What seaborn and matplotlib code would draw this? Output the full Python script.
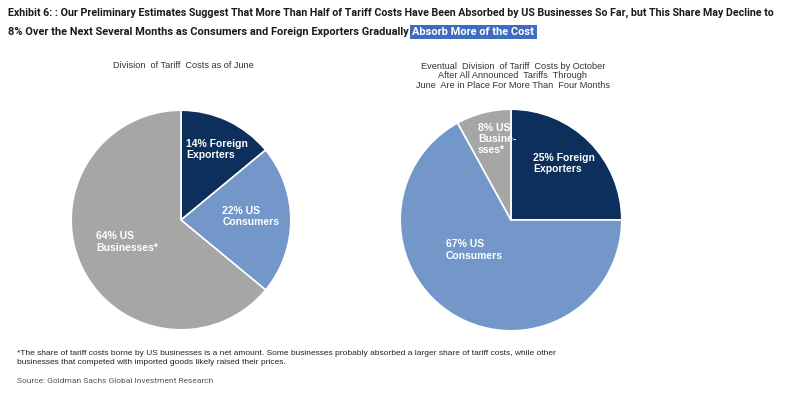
import matplotlib
matplotlib.use("Agg")
import matplotlib.pyplot as plt
import seaborn as sns
from matplotlib import font_manager

sns.set_theme(style="white")

names = {f.name for f in font_manager.fontManager.ttflist}
NARROW = "Liberation Sans Narrow" if "Liberation Sans Narrow" in names else "Roboto"
ARIAL = "Liberation Sans"

# ---- data ----
segments = ["Foreign Exporters", "US Consumers", "US Businesses"]
june_shares = [14, 22, 64]
october_shares = [25, 67, 8]
june_labels = ["14% Foreign\nExporters", "22% US\nConsumers", "64% US\nBusinesses*"]
october_labels = ["25% Foreign\nExporters", "67% US\nConsumers", "8% US\nBusine-\nsses*"]
colors = ["#0d2f5b", "#7297c8", "#a6a6a6"]

title_line1 = ("Exhibit 6: : Our Preliminary Estimates Suggest That More Than Half of Tariff Costs "
               "Have Been Absorbed by US Businesses So Far, but This Share May Decline to")
title_line2a = "8% Over the Next Several Months as Consumers and Foreign Exporters Gradually "
title_line2b = "Absorb More of the Cost"
sub_left = "Division  of Tariff  Costs as of June"
sub_right = "Eventual  Division  of Tariff  Costs by October\nAfter All Announced  Tariffs  Through\nJune  Are in Place For More Than  Four Months"
footnote = ("*The share of tariff costs borne by US businesses is a net amount. Some businesses probably absorbed a larger share of tariff costs, while other\n"
            "businesses that competed with imported goods likely raised their prices.")
source = "Source: Goldman Sachs Global Investment Research"

W, H = 798, 393
fig = plt.figure(figsize=(W / 100, H / 100), dpi=100)
fig.patch.set_facecolor("white")


def pie_axes(cx, cy, r):
    return fig.add_axes([(cx - r) / W, 1 - (cy + r) / H, 2 * r / W, 2 * r / H])


def draw_pie(ax, shares, labels, label_pos):
    ax.pie(shares, colors=colors, startangle=90, counterclock=False, radius=1,
           wedgeprops=dict(edgecolor="white", linewidth=1.2))
    ax.set_xlim(-1.02, 1.02)
    ax.set_ylim(-1.02, 1.02)
    ax.set_aspect("equal")
    ax.axis("off")
    for lab, (x, y) in zip(labels, label_pos):
        ax.text(x, y, lab, ha="left", va="center", color="white", fontsize=7.5,
                fontweight="bold", family=ARIAL, linespacing=1.15)


axL = pie_axes(181, 220, 112)
draw_pie(axL, june_shares, june_labels, [(0.045, 0.64), (0.375, 0.03), (-0.77, -0.2)])
axR = pie_axes(511, 220, 113)
draw_pie(axR, october_shares, october_labels, [(0.20, 0.51), (-0.59, -0.27), (-0.30, 0.73)])

# subtitles
fig.text(183 / W, 1 - 66 / H, sub_left, ha="center", va="center", fontsize=6.6,
         family=ARIAL, color="#333333")
fig.text(513 / W, 1 - 76 / H, sub_right, ha="center", va="center", fontsize=6.6,
         family=ARIAL, color="#333333", linespacing=1.1)

# title
t1 = fig.text(8 / W, 1 - 13 / H, title_line1, ha="left", va="center", fontsize=7.65,
              fontweight="bold", family=NARROW, color="#1a1a1a")
t2 = fig.text(8 / W, 1 - 32 / H, title_line2a, ha="left", va="center", fontsize=7.9,
              fontweight="bold", family=NARROW, color="#1a1a1a")
fig.canvas.draw()
bb = t2.get_window_extent()
fig.text(bb.x1 / W + 1 / W, 1 - 32 / H, title_line2b, ha="left", va="center", fontsize=7.9,
         fontweight="bold", family=NARROW, color="white",
         bbox=dict(boxstyle="square,pad=0.2", facecolor="#3f6cc0", edgecolor="none"))

# footnote & source
fig.text(17 / W, 1 - 358 / H, footnote, ha="left", va="center", fontsize=6.05,
         family=ARIAL, color="#222222", linespacing=1.3)
fig.text(17 / W, 1 - 381 / H, source, ha="left", va="center", fontsize=6.0,
         family=NARROW, color="#555555")

fig.savefig("out.png", dpi=100, facecolor="white")
